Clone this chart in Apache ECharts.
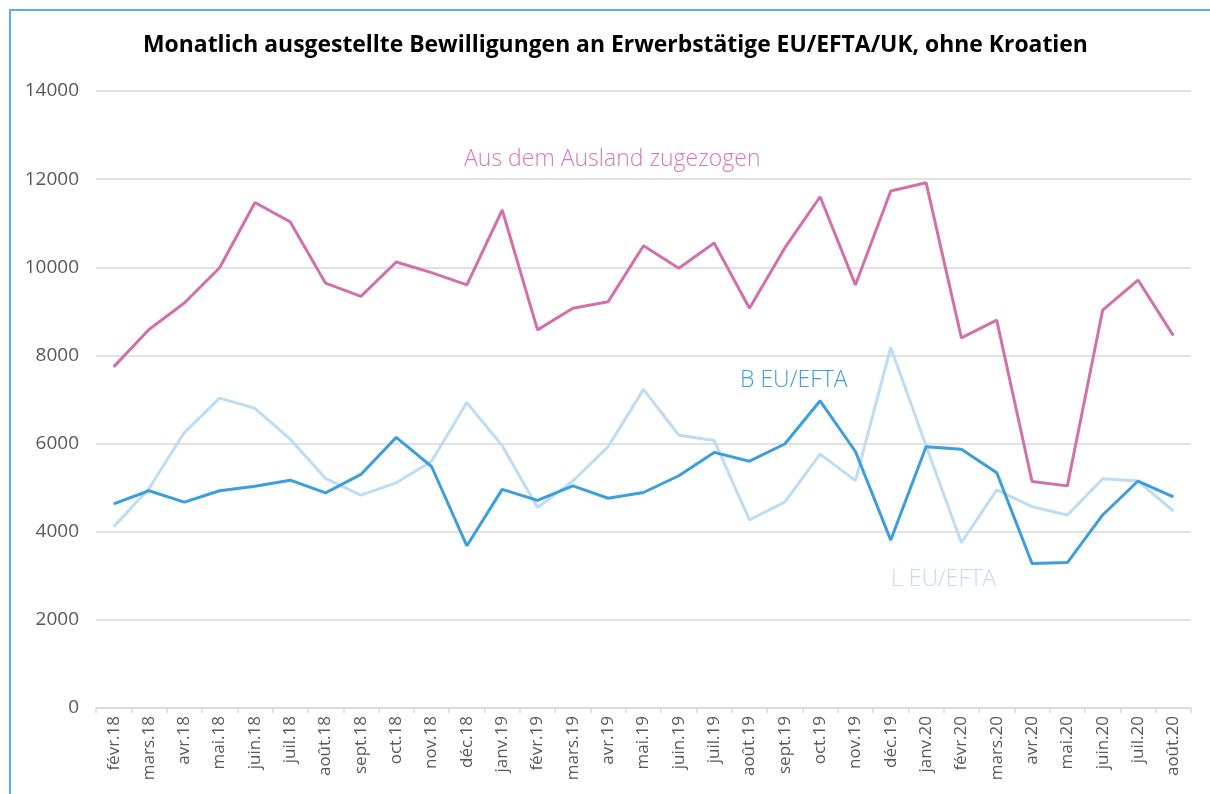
<!DOCTYPE html>
<html>
<head>
<meta charset="utf-8">
<script src="https://cdn.jsdelivr.net/npm/echarts@6/dist/echarts.min.js"></script>
<style>
  html, body { margin: 0; padding: 0; background: #fff; }
  #frame { position: absolute; left: 9px; top: 9px; width: 1220px; height: 820px; border-left: 2px solid #5aaee3; border-top: 2px solid #5aaee3; }
  #chart { position: absolute; left: 0; top: 0; width: 1210px; height: 794px; }
</style>
</head>
<body>
<div id="frame"></div>
<div id="chart"></div>
<script>
const titleText = 'Monatlich ausgestellte Bewilligungen an Erwerbstätige EU/EFTA/UK, ohne Kroatien';
const categories = ['févr.18','mars.18','avr.18','mai.18','juin.18','juil.18','août.18','sept.18','oct.18','nov.18','déc.18',
  'janv.19','févr.19','mars.19','avr.19','mai.19','juin.19','juil.19','août.19','sept.19','oct.19','nov.19','déc.19',
  'janv.20','févr.20','mars.20','avr.20','mai.20','juin.20','juil.20','août.20'];
const ausland = [7740, 8590, 9190, 9990, 11470, 11030, 9640, 9340, 10120, 9880, 9600,
  11300, 8580, 9070, 9220, 10490, 9980, 10550, 9070, 10440, 11600, 9600, 11730,
  11920, 8400, 8800, 5140, 5040, 9030, 9710, 8450];
const bEuEfta = [4630, 4930, 4670, 4930, 5030, 5170, 4880, 5300, 6140, 5480, 3680,
  4960, 4710, 5040, 4760, 4890, 5270, 5800, 5600, 5990, 6970, 5820, 3810,
  5930, 5870, 5340, 3280, 3300, 4380, 5150, 4790];
const lEuEfta = [4110, 4980, 6250, 7030, 6800, 6100, 5210, 4830, 5110, 5600, 6930,
  5950, 4550, 5150, 5930, 7230, 6190, 6070, 4270, 4670, 5760, 5160, 8180,
  5950, 3750, 4950, 4570, 4380, 5200, 5150, 4470];
const yTicks = { min: 0, max: 14000, interval: 2000 };

const font = '"Open Sans", "Noto Sans", sans-serif';
const chart = echarts.init(document.getElementById('chart'), null, { renderer: 'canvas' });
chart.setOption({
  animation: false,
  backgroundColor: 'transparent',
  title: {
    text: titleText,
    left: 138,
    top: 29,
    textStyle: { fontFamily: font, fontWeight: 'bold', fontSize: 22.9, color: '#000' }
  },
  grid: { left: 96, right: 19, top: 91, bottom: 86, containLabel: false },
  xAxis: {
    type: 'category',
    data: categories,
    boundaryGap: true,
    axisLine: { lineStyle: { color: '#d9d9d9', width: 1.5 } },
    axisTick: { show: true, length: 5, lineStyle: { color: '#d9d9d9', width: 1.5 } },
    axisLabel: { rotate: 90, interval: 0, margin: 8, fontFamily: font, fontSize: 17, color: '#595959' }
  },
  yAxis: {
    type: 'value',
    min: yTicks.min, max: yTicks.max, interval: yTicks.interval,
    axisLine: { show: false },
    axisTick: { show: false },
    axisLabel: { margin: 17, fontFamily: font, fontSize: 19, color: '#595959', formatter: v => String(v) },
    splitLine: { lineStyle: { color: '#d9d9d9', width: 1.5 } }
  },
  series: [
    { name: 'L EU/EFTA', type: 'line', data: lEuEfta, symbol: 'none', lineStyle: { color: '#bddcf5', width: 3 }, z: 2 },
    { name: 'B EU/EFTA', type: 'line', data: bEuEfta, symbol: 'none', lineStyle: { color: '#3c9edb', width: 3 }, z: 3 },
    { name: 'Aus dem Ausland zugezogen', type: 'line', data: ausland, symbol: 'none', lineStyle: { color: '#d171ac', width: 3 }, z: 4 }
  ],
  graphic: [
    { type: 'text', left: 464, top: 148, style: { text: 'Aus dem Ausland zugezogen', fill: '#d878b0', font: '300 23px ' + font } },
    { type: 'text', left: 740, top: 369, style: { text: 'B EU/EFTA', fill: '#3c9edb', font: '300 23px ' + font } },
    { type: 'text', left: 891, top: 568, style: { text: 'L EU/EFTA', fill: '#bddcf5', font: '300 23px ' + font } }
  ]
});
</script>
</body>
</html>
